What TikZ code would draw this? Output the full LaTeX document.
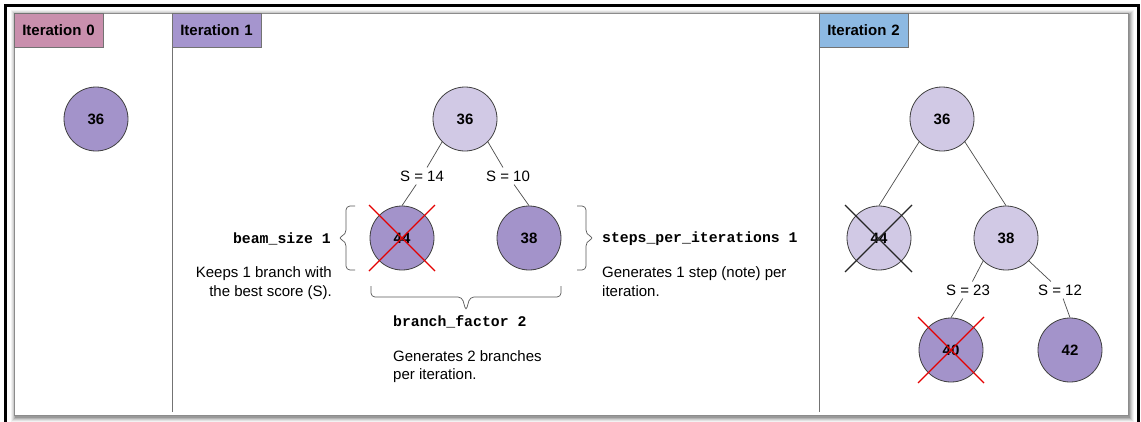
\documentclass[tikz,border=0pt]{standalone}
\usepackage{fontspec}
\setmainfont{Liberation Sans}
\setmonofont{Liberation Mono}
\definecolor{nodedark}{HTML}{A393CA}
\definecolor{nodelight}{HTML}{D1C9E5}
\definecolor{hdrpink}{HTML}{C98FAD}
\definecolor{hdrpurple}{HTML}{A595CE}
\definecolor{hdrblue}{HTML}{8DB9E2}
\begin{document}
\begin{tikzpicture}[x=1pt,y=-1pt,
  every node/.style={font=\fontsize{15}{18.5}\selectfont},
  circ/.style={circle,draw=black!75,line width=0.8pt,minimum size=64pt,inner sep=0pt,
    font=\fontsize{15}{17}\selectfont\bfseries},
  dark/.style={circ,fill=nodedark},
  light/.style={circ,fill=nodelight},
  edge/.style={draw=black!70,line width=0.7pt},
  lbl/.style={inner sep=3pt},
  hdr/.style={draw=black!55,line width=0.6pt,anchor=north west,minimum height=33.5pt,
    text width=73pt,inner xsep=8pt,inner ysep=0pt,align=left,
    font=\fontsize{15}{17}\selectfont\bfseries},
  mono/.style={font=\ttfamily\bfseries\fontsize{14.8}{17}\selectfont,inner sep=0pt},
  note/.style={inner sep=0pt},
  bracestyle/.style={draw=black!65,line width=0.7pt,rounded corners=4pt},
  xred/.style={draw=red!90!black,line width=1.2pt},
  xblack/.style={draw=black!85,line width=1.2pt}
]
\useasboundingbox (0,0) rectangle (1141,421);
% outer frame
\draw[line width=3pt] (5,425) -- (5,5) -- (1138.5,5) -- (1138.5,425);
% shadow of inner frame
\foreach \d/\o in {5/0.05,4/0.07,3/0.09,2/0.12,1/0.15}{
  \fill[black,opacity=\o] (14-\d+2,13-\d+2) rectangle (1128+\d+1,415+\d+2);
}
\filldraw[fill=white,draw=black!45,line width=0.8pt] (14,13) rectangle (1128,415);
% column dividers
\draw[black!55,line width=0.8pt] (172,13) -- (172,412);
\draw[black!55,line width=0.8pt] (819,13) -- (819,412);
% headers
\node[hdr,fill=hdrpink] (h0) at (14,13) {Iteration 0};
\node[hdr,fill=hdrpurple] (h1) at (172,13) {Iteration 1};
\node[hdr,fill=hdrblue] (h2) at (819,13) {Iteration 2};

% Iteration 0
\node[dark] (z36) at (96,119) {36};

% Iteration 1
\node[light] (a36) at (465,119) {36};
\node[dark] (a44) at (402,238) {44};
\node[dark] (a38) at (529,238) {38};
\node[lbl] (s14) at (422,176) {S = 14};
\node[lbl] (s10) at (508,176) {S = 10};
\draw[edge] (a36.225) -- (s14) -- (a44.north);
\draw[edge] (a36.-45) -- (s10) -- (a38.north);
\draw[xred] ([shift={(-33,-33)}]a44.center) -- ([shift={(33,33)}]a44.center);
\draw[xred] ([shift={(-33,33)}]a44.center) -- ([shift={(33,-33)}]a44.center);

% braces
\draw[bracestyle] (355,206) -- (346,206) -- (346,234) -- (338,238) -- (346,242) -- (346,270) -- (355,270);
\draw[bracestyle] (577,206) -- (586,206) -- (586,234) -- (594,238) -- (586,242) -- (586,270) -- (577,270);
\draw[bracestyle] (371,286) -- (371,297) -- (462,297) -- (466,311) -- (470,297) -- (561,297) -- (561,286);

\node[mono,anchor=east] (beam) at (331,239) {beam\_size 1};
\node[note,anchor=north east,align=right,font=\fontsize{15}{19}\selectfont] (keeps) at (332,266) {Keeps 1 branch with\\the best score (S).};
\node[mono,anchor=west] (steps) at (602,239) {steps\_per\_iterations 1};
\node[note,anchor=north west,align=left,font=\fontsize{15}{19}\selectfont] (gen1) at (602,266) {Generates 1 step (note) per\\iteration.};
\node[mono,anchor=west] (branch) at (393,322) {branch\_factor 2};
\node[note,anchor=north west,align=left,font=\fontsize{15}{18}\selectfont] (gen2) at (393,350) {Generates 2 branches\\per iteration.};

% Iteration 2
\node[light] (b36) at (942,119) {36};
\node[light] (b44) at (879,238) {44};
\node[light] (b38) at (1006,238) {38};
\node[dark] (b40) at (951,350) {40};
\node[dark] (b42) at (1070,350) {42};
\node[lbl] (s23) at (968,290) {S = 23};
\node[lbl] (s12) at (1060,290) {S = 12};
\draw[edge] (b36.225) -- (b44.north);
\draw[edge] (b36.-45) -- (b38.north);
\draw[edge] (b38.225) -- (s23) -- (b40.north);
\draw[edge] (b38.-45) -- (s12) -- (b42.north);
\draw[xblack] ([shift={(-34,-33)}]b44.center) -- ([shift={(33,34)}]b44.center);
\draw[xblack] ([shift={(-34,34)}]b44.center) -- ([shift={(33,-33)}]b44.center);
\draw[xred] ([shift={(-33,-33)}]b40.center) -- ([shift={(33,33)}]b40.center);
\draw[xred] ([shift={(-33,33)}]b40.center) -- ([shift={(33,-33)}]b40.center);
\end{tikzpicture}
\end{document}
